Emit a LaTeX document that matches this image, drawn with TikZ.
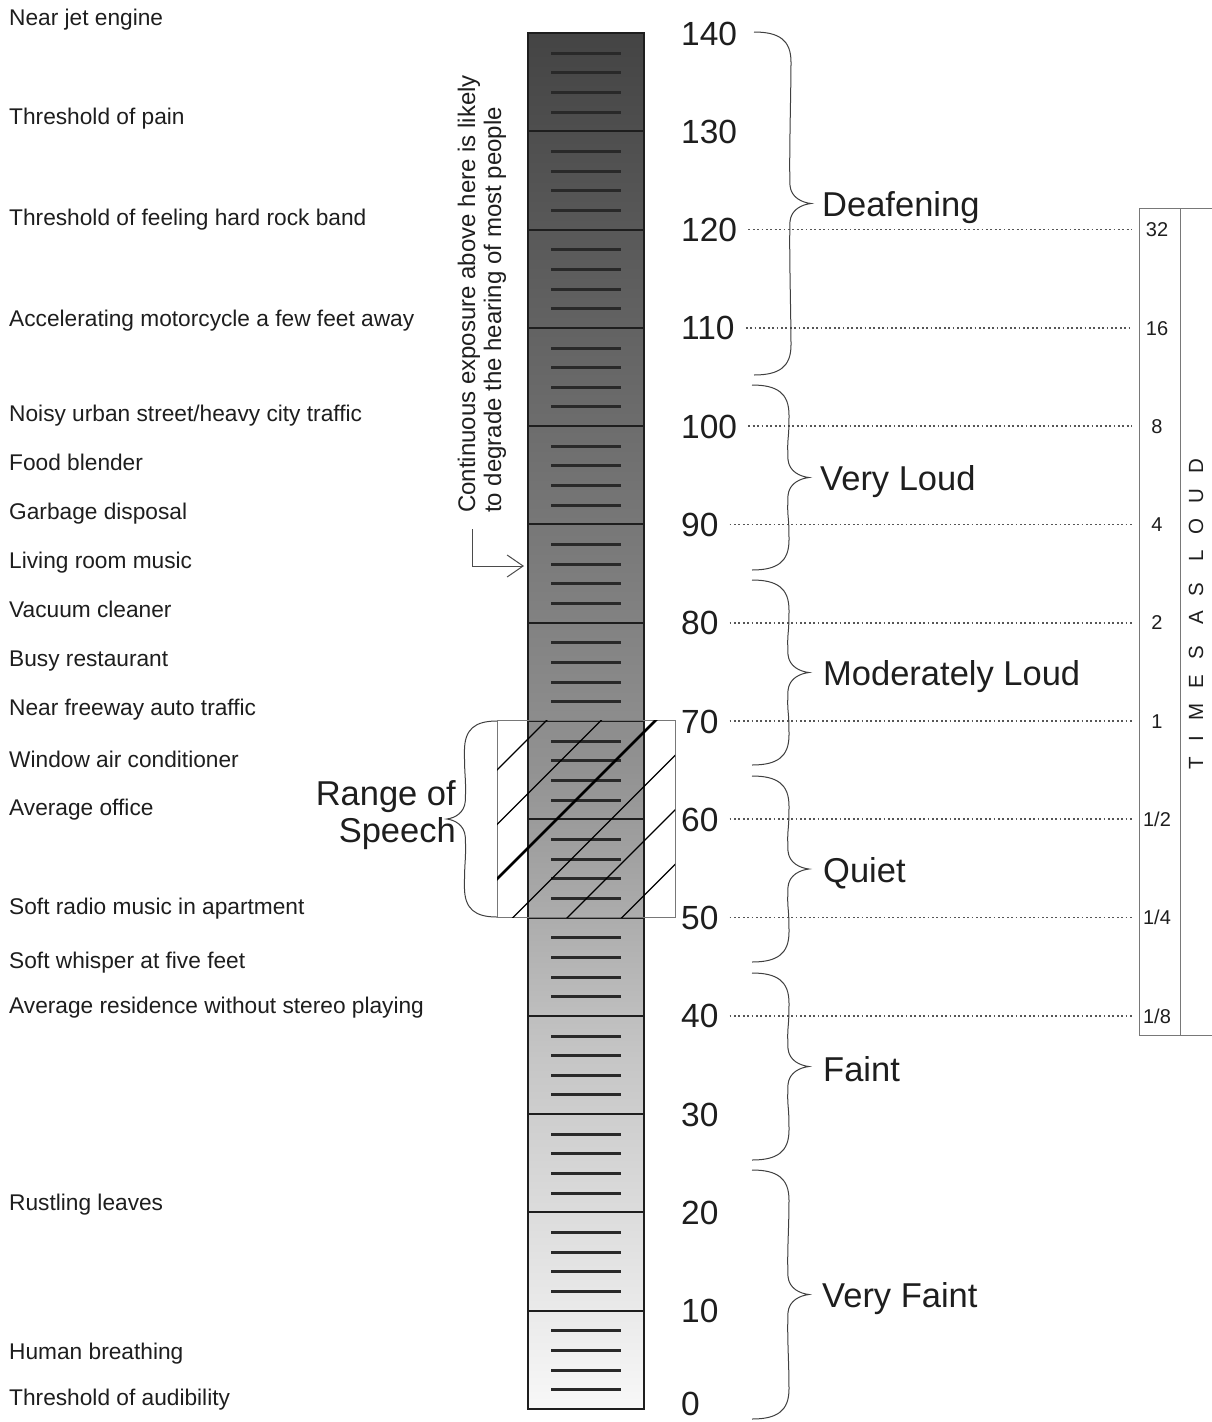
\documentclass[tikz,border=0pt]{standalone}
\usepackage{fontspec}
\setmainfont{Liberation Sans}
\usetikzlibrary{arrows.meta}
\definecolor{c0}{RGB}{68,68,68}
\definecolor{c1}{RGB}{114,114,114}
\definecolor{c2}{RGB}{146,146,146}
\definecolor{c3}{RGB}{198,198,198}
\definecolor{c4}{RGB}{248,248,248}
\definecolor{ink}{RGB}{30,30,30}
\definecolor{boxgray}{RGB}{120,120,120}
\pgfdeclareverticalshading{barshade}{100bp}{color(0bp)=(c4); color(25bp)=(c4); color(37.7bp)=(c3); color(48.2bp)=(c2); color(58.9bp)=(c1); color(75bp)=(c0); color(100bp)=(c0)}
\newcommand\cbrace[4]{% x0, ytop, ybot, scale(sign)
  \pgfmathsetmacro\ym{(#2+#3)/2}
  \draw[bracestyle] (#1,#2) .. controls ({#1+25*#4},#2) and ({#1+37*#4},{#2+8}) .. ({#1+37*#4},{#2+30})
   .. controls ({#1+37*#4},{#2+60}) and ({#1+35*#4},{\ym-45}) .. ({#1+36*#4},{\ym-18})
   .. controls ({#1+37*#4},{\ym-6}) and ({#1+48*#4},{\ym-1}) .. ({#1+57*#4},\ym)
   .. controls ({#1+48*#4},{\ym+1}) and ({#1+37*#4},{\ym+6}) .. ({#1+36*#4},{\ym+18})
   .. controls ({#1+35*#4},{\ym+45}) and ({#1+37*#4},{#3-60}) .. ({#1+37*#4},{#3-30})
   .. controls ({#1+37*#4},{#3-8}) and ({#1+25*#4},#3) .. (#1,#3);}
\begin{document}
\begin{tikzpicture}[x=1pt,y=-1pt,
  lab/.style={font=\fontsize{22.7}{26}\selectfont, inner sep=0pt, text height=16.2pt, text depth=0pt, anchor=west, text=ink},
  dbnum/.style={font=\fontsize{33.5}{36}\selectfont, inner sep=0pt, text height=24pt, text depth=0pt, anchor=west, text=ink},
  cat/.style={font=\fontsize{34.5}{38}\selectfont, inner sep=0pt, text height=24.7pt, text depth=0pt, anchor=west, text=ink},
  ratio/.style={font=\fontsize{20}{22}\selectfont, inner sep=0pt, text height=14.3pt, text depth=0pt, text=ink},
  dotline/.style={line width=1.8pt, dash pattern=on 1.8pt off 2.6pt, color=ink!75},
  bracestyle/.style={line width=1pt, color=ink!85},
  seg/.style={line width=2.2pt, color=ink},
  tick/.style={line width=3pt, color=ink!95},
  hatch/.style={line width=1.3pt, color=black}]
\useasboundingbox (0,0) rectangle (1212,1422);
\fill[white] (0,0) rectangle (1212,1422);
% bar
\shade[shading=barshade] (528,33) rectangle (644,1409);
\foreach \d in {0,...,13}{
  \pgfmathsetmacro\yt{1409-(\d+1)*98.2857}
  \foreach \k in {1,2,3,4}{
    \pgfmathsetmacro\yy{round(\yt+\k*19.657)+0.5}
    \draw[tick] (551,\yy) -- (621,\yy);
  }
}
\foreach \d in {1,...,13}{
  \pgfmathsetmacro\yy{round(1409-\d*98.2857)}
  \draw[seg] (528,\yy) -- (644,\yy);
}
\draw[seg] (528,33) rectangle (644,1409);
% range of speech box
\draw[line width=0.9pt, color=boxgray] (497,720) rectangle (675,917);
\begin{scope}
  \clip (497,720) rectangle (675,917);
  \foreach \k in {0,1,3,4,5}{
    \pgfmathsetmacro\c{1267+54.5*\k}
    \draw[hatch] ({\c-950},950) -- ({\c-690},690);
  }
  \draw[hatch, line width=2.6pt] ({1376-950},950) -- ({1376-690},690);
\end{scope}
\cbrace{497}{721}{917}{-0.88}
\node[font=\fontsize{34.5}{37}\selectfont, align=right, anchor=east, inner sep=0pt, text=ink] (speech) at (456,815) {Range of\\Speech};
% numbers
\foreach \d in {10,20,...,140}{
  \pgfmathsetmacro\yy{1409-\d/10*98.2857}
  \node[dbnum] (n\d) at (681,\yy) {\d};
}
\node[dbnum] (n0) at (681,1403) {0};
% right box
\draw[line width=1pt, color=boxgray] (1212,208) -- (1139,208) -- (1139,1035) -- (1212,1035);
\draw[line width=1pt, color=boxgray] (1180,208) -- (1180,1035);
\foreach \d/\r in {120/32,110/16,100/8,90/4,80/2,70/1,60/{1/2},50/{1/4},40/{1/8}}{
  \pgfmathsetmacro\yy{1409-\d/10*98.2857}
  \node[ratio] (r\d) at (1157,\yy) {\r};
  \draw[dotline] ([xshift=11pt]n\d.east) -- (1132,\yy);
}
\node[rotate=90, inner sep=0pt, text=ink, font=\fontsize{20.5}{24}\selectfont\addfontfeature{LetterSpace=74}] (times) at (1196,614) {TIMES AS LOUD};
% braces and categories
\cbrace{754}{32}{375}{1}
\node[cat] (deaf) at (822,204) {Deafening};
\cbrace{752}{385}{570}{1}
\node[cat] (vloud) at (820,478) {Very Loud};
\cbrace{752}{580}{765}{1}
\node[cat] (mloud) at (823,673) {Moderately Loud};
\cbrace{752}{776}{962}{1}
\node[cat] (quiet) at (823,870) {Quiet};
\cbrace{752}{973}{1160}{1}
\node[cat] (faint) at (823,1069) {Faint};
\cbrace{752}{1170}{1419}{1}
\node[cat] (vfaint) at (822,1295) {Very Faint};
% rotated note with arrow
\node[rotate=90, anchor=west, align=left, inner sep=0pt, text=ink, font=\fontsize{24}{26}\selectfont] (note) at (482,513) {Continuous exposure above here is likely\\to degrade the hearing of most people};
\coordinate (arrS) at (472,529);
\coordinate (arrE) at (524,566);
\draw[line width=1pt, color=ink!80, -{Straight Barb[length=16pt,width=22pt,line width=1pt]}] (arrS) |- (arrE);
% left labels
\node[lab] (l1) at (9,17) {Near jet engine};
\node[lab] (l2) at (9,116) {Threshold of pain};
\node[lab] (l3) at (9,217) {Threshold of feeling hard rock band};
\node[lab] (l4) at (9,318) {Accelerating motorcycle a few feet away};
\node[lab] (l5) at (9,413) {Noisy urban street/heavy city traffic};
\node[lab] (l6) at (9,462) {Food blender};
\node[lab] (l7) at (9,511) {Garbage disposal};
\node[lab] (l8) at (9,560) {Living room music};
\node[lab] (l9) at (9,609) {Vacuum cleaner};
\node[lab] (l10) at (9,658) {Busy restaurant};
\node[lab] (l11) at (9,707) {Near freeway auto traffic};
\node[lab] (l12) at (9,759) {Window air conditioner};
\node[lab] (l13) at (9,807) {Average office};
\node[lab] (l14) at (9,906) {Soft radio music in apartment};
\node[lab] (l15) at (9,960) {Soft whisper at five feet};
\node[lab] (l16) at (9,1005) {Average residence without stereo playing};
\node[lab] (l17) at (9,1202) {Rustling leaves};
\node[lab] (l18) at (9,1351) {Human breathing};
\node[lab] (l19) at (9,1397) {Threshold of audibility};
\end{tikzpicture}
\end{document}
